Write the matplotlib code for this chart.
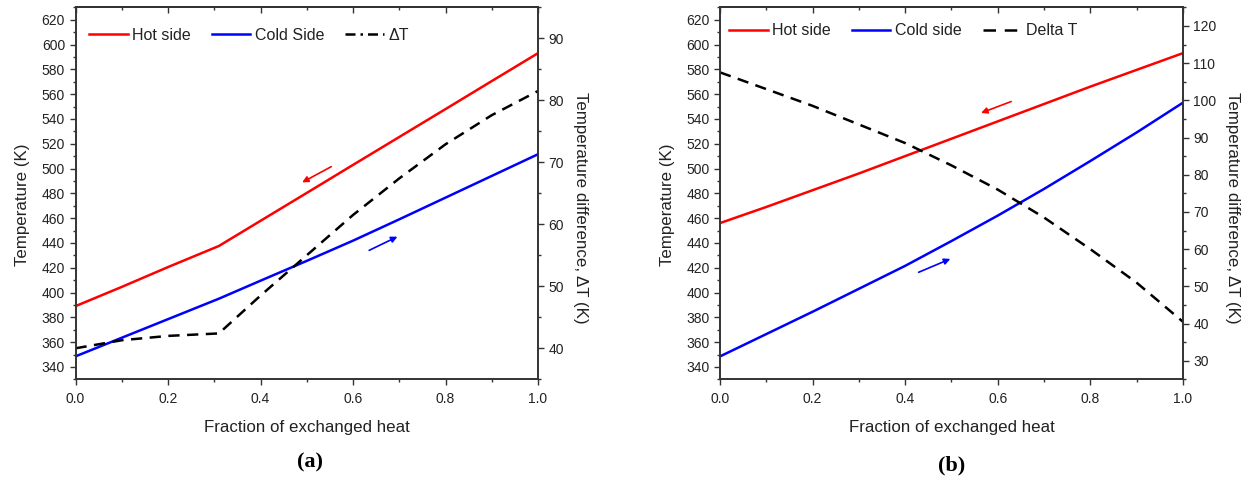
import matplotlib
matplotlib.use("Agg")
import matplotlib.pyplot as plt
from matplotlib.lines import Line2D
from matplotlib.ticker import MultipleLocator

plt.rcParams['font.family'] = ['Liberation Sans', 'DejaVu Sans']

# ---------------- data (a) ----------------
frac_a = [0.0, 0.1, 0.2, 0.31, 0.4, 0.5, 0.6, 0.7, 0.8, 0.9, 1.0]
hot_a = [389, 404.5, 420.5, 437.5, 457.8, 480.3, 502.9, 525.4, 547.9, 570.5, 593]
cold_a = [348.5, 363.5, 378.5, 395.0, 409.5, 425.5, 441.8, 459, 476.5, 494, 511.5]
dT_a = [40.0, 41.3, 42.0, 42.4, 48.5, 55.0, 61.5, 67.4, 72.9, 77.6, 81.5]

# ---------------- data (b) ----------------
frac_b = [0.0, 0.1, 0.2, 0.3, 0.4, 0.5, 0.6, 0.7, 0.8, 0.9, 1.0]
hot_b = [456, 469, 482.5, 496, 510, 524, 538, 552, 566, 579.5, 593]
cold_b = [348.5, 366.5, 384.5, 403, 421.5, 441.5, 462, 483.5, 506, 529, 553]
dT_b = [107.5, 103, 98.5, 93.5, 88.5, 82.5, 76, 68.5, 60, 51, 40.5]

labels_a = ['Hot side', 'Cold Side', '\u0394T']
labels_b = ['Hot side', 'Cold side', 'Delta T']
xlabel = 'Fraction of exchanged heat'
ylabel_l = 'Temperature (K)'
ylabel_r = 'Temperature difference, \u0394T (K)'

W, H = 1256, 484
fig = plt.figure(figsize=(W / 100, H / 100), dpi=100)

TXT = '#222222'
AXC = '#333333'
RED = '#ff0000'
BLUE = '#0000ff'
TICK_FS = 10
LAB_FS = 12.2
LEG_FS = 11.5


def style_axes(ax, ax2, rlim, rmajor, rminor):
    ax.set_xlim(0, 1.0)
    ax.set_ylim(330, 630)
    ax.xaxis.set_major_locator(MultipleLocator(0.2))
    ax.xaxis.set_minor_locator(MultipleLocator(0.1))
    ax.yaxis.set_minor_locator(MultipleLocator(10))
    ax.set_yticks(list(range(340, 621, 20)))
    ax.tick_params(axis='both', which='major', direction='out', length=4.5, width=1.0,
                   labelsize=TICK_FS, colors=AXC, labelcolor=TXT, pad=3)
    ax.tick_params(axis='both', which='minor', direction='out', length=2.5, width=1.0,
                   colors=AXC)
    ax.tick_params(axis='x', which='major', pad=4.5)
    ax.set_xticklabels([f'{v:.1f}' for v in ax.get_xticks()])
    for s in ax.spines.values():
        s.set_linewidth(1.2)
        s.set_color(AXC)
    top = ax.secondary_xaxis('top')
    top.xaxis.set_major_locator(MultipleLocator(0.2))
    top.xaxis.set_minor_locator(MultipleLocator(0.1))
    top.tick_params(axis='x', which='major', direction='in', length=4.5, width=1.0,
                    labeltop=False, colors=AXC)
    top.tick_params(axis='x', which='minor', direction='in', length=2.5, width=1.0,
                    colors=AXC)
    top.spines['top'].set_linewidth(1.2)
    top.spines['top'].set_color(AXC)

    ax2.set_ylim(*rlim)
    ax2.yaxis.set_major_locator(MultipleLocator(rmajor))
    ax2.yaxis.set_minor_locator(MultipleLocator(rminor))
    ax2.tick_params(axis='y', which='major', direction='out', length=4.5, width=1.0,
                    labelsize=TICK_FS, colors=AXC, labelcolor=TXT, pad=3)
    ax2.tick_params(axis='y', which='minor', direction='out', length=2.5, width=1.0,
                    colors=AXC)
    for s in ax2.spines.values():
        s.set_linewidth(1.2)
        s.set_color(AXC)

    ax.set_xlabel(xlabel, fontsize=LAB_FS, color=TXT, labelpad=10)
    ax.set_ylabel(ylabel_l, fontsize=LAB_FS, color=TXT, labelpad=8.5)
    ax.yaxis.label.set_y(0.47)
    ax2.set_ylabel(ylabel_r, fontsize=LAB_FS, color=TXT, rotation=270, labelpad=17)
    ax2.yaxis.label.set_y(0.46)


def arrow(ax, x0, y0, x1, y1, color):
    ax.annotate('', xy=(x1, y1), xytext=(x0, y0),
                arrowprops=dict(arrowstyle='-|>', color=color, lw=1.2,
                                mutation_scale=9, shrinkA=0, shrinkB=0))


# ---------------- panel (a) ----------------
axA = fig.add_axes([75.5 / W, 1 - 379.3 / H, 462.5 / W, 372 / H])
axA2 = axA.twinx()
axA.plot(frac_a, hot_a, color=RED, lw=1.8, zorder=3)
axA.plot(frac_a, cold_a, color=BLUE, lw=1.8, zorder=3)
axA2.plot(frac_a, dT_a, color='black', lw=1.8, linestyle=(0, (4.5, 3)))
style_axes(axA, axA2, (35, 95), 10, 5)
arrow(axA, 0.553, 501.5, 0.49, 488.8, RED)
arrow(axA, 0.635, 434, 0.696, 445, BLUE)
hA = [Line2D([], [], color=RED, lw=1.8),
      Line2D([], [], color=BLUE, lw=1.8),
      Line2D([], [], color='black', lw=1.8, linestyle=(0, (4, 2, 1, 2)))]
axA.legend(hA, labels_a, loc='center left', bbox_to_anchor=(0.03, 0.925), frameon=False,
           ncol=3, fontsize=LEG_FS, handlelength=2.4, handletextpad=0.3,
           columnspacing=1.3, borderpad=0, borderaxespad=0, labelcolor=TXT)
fig.text(310 / W, 1 - 462 / H, '(a)', fontsize=16, fontweight='bold',
         family='Liberation Serif', ha='center', va='center')

# ---------------- panel (b) ----------------
axB = fig.add_axes([720.1 / W, 1 - 379.3 / H, 462.7 / W, 372 / H])
axB2 = axB.twinx()
axB.plot(frac_b, hot_b, color=RED, lw=1.8, zorder=3)
axB.plot(frac_b, cold_b, color=BLUE, lw=1.8, zorder=3)
axB2.plot(frac_b, dT_b, color='black', lw=1.8, linestyle=(0, (4.5, 3)))
style_axes(axB, axB2, (25, 125), 10, 5)
arrow(axB, 0.629, 554, 0.564, 544.8, RED)
arrow(axB, 0.429, 416.3, 0.4975, 427.1, BLUE)
hB = [Line2D([], [], color=RED, lw=1.8),
      Line2D([], [], color=BLUE, lw=1.8),
      Line2D([], [], color='black', lw=1.8, linestyle=(0, (5, 3.5)))]
axB.legend(hB, labels_b, loc='center left', bbox_to_anchor=(0.02, 0.937), frameon=False,
           ncol=3, fontsize=LEG_FS, handlelength=2.4, handletextpad=0.3,
           columnspacing=1.3, borderpad=0, borderaxespad=0, labelcolor=TXT)
fig.text(952 / W, 1 - 465 / H, '(b)', fontsize=16, fontweight='bold',
         family='Liberation Serif', ha='center', va='center')

fig.savefig('out.png', dpi=100)
